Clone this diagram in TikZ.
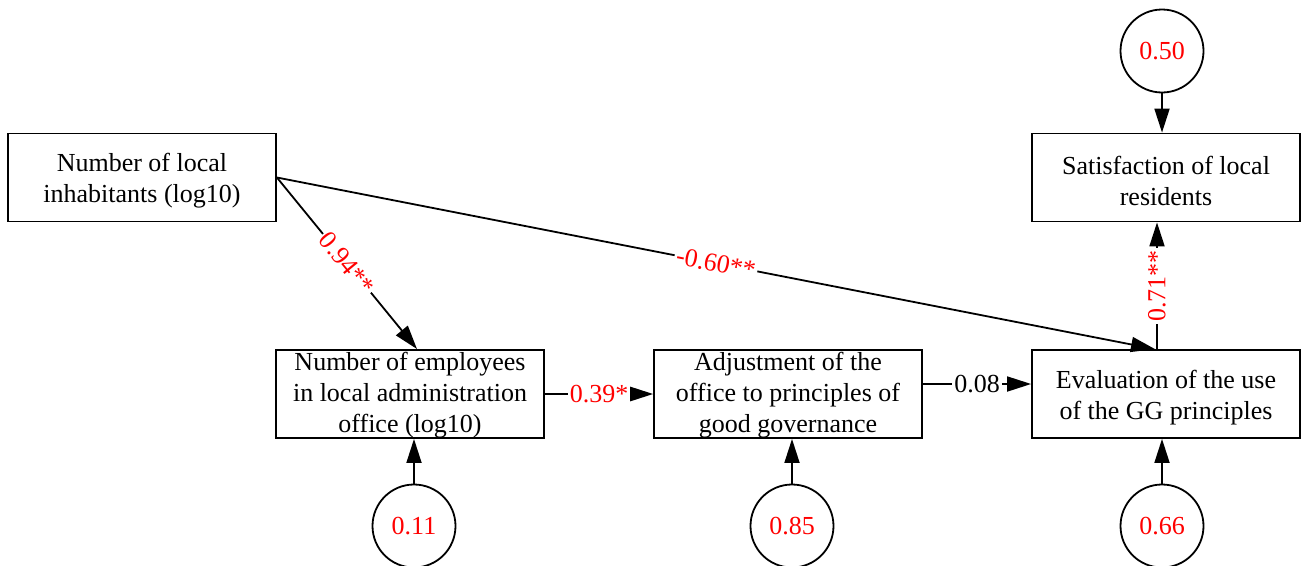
\documentclass[tikz,border=0pt]{standalone}
\usepackage{fontspec}
\setmainfont{Liberation Serif}
\usetikzlibrary{arrows.meta,calc}
\newcommand{\dnstrut}{\rule{0pt}{25pt}}
\newcommand{\dnstrutb}{\rule{0pt}{20.5pt}}
\begin{document}
\begin{tikzpicture}[x=1pt,y=-1pt, font=\fontsize{26}{31}\selectfont,
 box/.style={draw, line width=1.8pt, minimum width=268pt, minimum height=88pt, align=center, inner sep=0pt},
 err/.style={draw, circle, line width=1.8pt, minimum size=83pt, text=red, inner sep=0pt},
 arr/.style={line width=1.8pt, -{Triangle[length=24pt,width=15pt]}},
 lab/.style={fill=white, inner sep=2pt, text=red},
 ]
\useasboundingbox (0,0) rectangle (1301,565);
\node[box] (inh) at (142,177.5) {\dnstrut Number of local\\inhabitants (log10)};
\node[box] (emp) at (410,394) {\dnstrutb Number of employees\\in local administration\\office (log10)};
\node[box] (adj) at (788,394) {\dnstrutb Adjustment of the\\office to principles of\\good governance};
\node[box] (eva) at (1166,394) {\dnstrut Evaluation of the use\\of the GG principles};
\node[box] (sat) at (1166,177.5) {\dnstrut Satisfaction of local\\residents};
\node[err] (e50) at (1162,51) {0.50};
\node[err] (e11) at (414,526) {0.11};
\node[err] (e85) at (792,526) {0.85};
\node[err] (e66) at (1162,526) {0.66};
\draw[arr] (inh.east) -- node[lab,sloped]{0.94**} ([xshift=7pt]emp.north);
\draw[arr] (inh.east) -- node[lab,sloped]{-0.60**} ([xshift=-11pt]eva.north);
\draw[arr] ([xshift=-9pt]eva.north) -- node[lab,sloped]{0.71**} ([xshift=-9pt]sat.south);
\draw[arr] (emp.east) -- node[lab]{0.39*} (adj.west);
\draw[arr] ([yshift=10pt]adj.east) -- node[lab,text=black]{0.08} ([yshift=10pt]eva.west);
\draw[arr] (e11.north) -- (e11.north |- emp.south);
\draw[arr] (e85.north) -- (e85.north |- adj.south);
\draw[arr] (e66.north) -- (e66.north |- eva.south);
\draw[arr] (e50.south) -- (e50.south |- sat.north);
\end{tikzpicture}
\end{document}
